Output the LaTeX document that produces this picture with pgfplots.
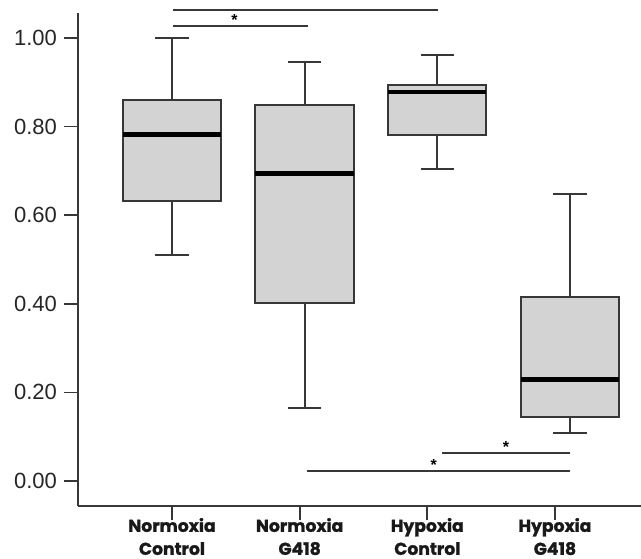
\documentclass[border=0pt]{standalone}
\usepackage{fontspec}
\setmainfont{Liberation Sans}
\newfontfamily\popp{Poppins}[BoldFeatures={FakeBold=1.3}]
\usepackage{pgfplots}
\pgfplotsset{compat=1.18}
\usepgfplotslibrary{statistics}
\definecolor{boxgray}{RGB}{211,211,211}
\definecolor{linegray}{RGB}{55,55,55}
\begin{document}
\begin{tikzpicture}
\begin{axis}[
    name=ax,
    scale only axis,
    width=281.5pt, height=246.5pt,
    xmin=0.2637, xmax=4.674,
    ymin=-0.0564, ymax=1.0564,
    axis x line=bottom, axis y line=left,
    axis line style={-, draw=linegray, line width=1pt},
    tick align=outside,
    major tick length=7pt,
    tick style={draw=linegray, line width=0.9pt},
    xtick={1,2,3,4},
    xticklabels={{Normoxia\\Control},{Normoxia\\G418},{Hypoxia\\Control},{Hypoxia\\G418}},
    xticklabel style={align=center, font=\popp\bfseries\fontsize{8.6}{11.5}\selectfont, text=black!90, yshift=4.5pt},
    ytick={0,0.2,0.4,0.6,0.8,1.0},
    yticklabel style={font=\fontsize{11}{13}\selectfont, text=black!85},
    /pgf/number format/fixed,
    /pgf/number format/fixed zerofill,
    /pgf/number format/precision=2,
    /pgf/number format/assume math mode=true,
    clip=false,
    boxplot/draw direction=y,
    boxplot/every median/.style={draw=black, line width=2.4pt},
  ]
  % boxes sit a little right of the category ticks, as in the original
  \addplot[draw=linegray, line width=1pt, fill=boxgray,
    boxplot prepared={draw position=1, median=0.783, upper quartile=0.860, lower quartile=0.632,
      upper whisker=1.000, lower whisker=0.510, box extend=0.77, whisker extend=0.26}] coordinates {};
  \addplot[draw=linegray, line width=1pt, fill=boxgray,
    boxplot prepared={draw position=2.039, median=0.695, upper quartile=0.849, lower quartile=0.402,
      upper whisker=0.946, lower whisker=0.165, box extend=0.77, whisker extend=0.26}] coordinates {};
  \addplot[draw=linegray, line width=1pt, fill=boxgray,
    boxplot prepared={draw position=3.078, median=0.878, upper quartile=0.894, lower quartile=0.781,
      upper whisker=0.962, lower whisker=0.704, box extend=0.77, whisker extend=0.26}] coordinates {};
  \addplot[draw=linegray, line width=1pt, fill=boxgray,
    boxplot prepared={draw position=4.118, median=0.230, upper quartile=0.415, lower quartile=0.144,
      upper whisker=0.648, lower whisker=0.108, box extend=0.77, whisker extend=0.26}] coordinates {};
  % significance bars
  \addplot[draw=linegray, line width=1pt] coordinates {(1.01,1.063) (3.08,1.063)};
  \addplot[draw=linegray, line width=1pt] coordinates {(1.01,1.026) (2.065,1.026)};
  \addplot[draw=linegray, line width=1pt] coordinates {(3.115,0.063) (4.117,0.063)};
  \addplot[draw=linegray, line width=1pt] coordinates {(2.057,0.0226) (4.117,0.0226)};
  \node[font=\bfseries\fontsize{8}{8}\selectfont, inner sep=0pt] at (axis cs:1.49,1.040) {*};
  \node[font=\bfseries\fontsize{8}{8}\selectfont, inner sep=0pt] at (axis cs:3.616,0.077) {*};
  \node[font=\bfseries\fontsize{8}{8}\selectfont, inner sep=0pt] at (axis cs:3.05,0.037) {*};
\end{axis}
\pgfresetboundingbox
\path[use as bounding box] ([xshift=-39pt,yshift=-26pt]ax.south west) rectangle ([yshift=6.5pt]ax.north east);
\end{tikzpicture}
\end{document}
